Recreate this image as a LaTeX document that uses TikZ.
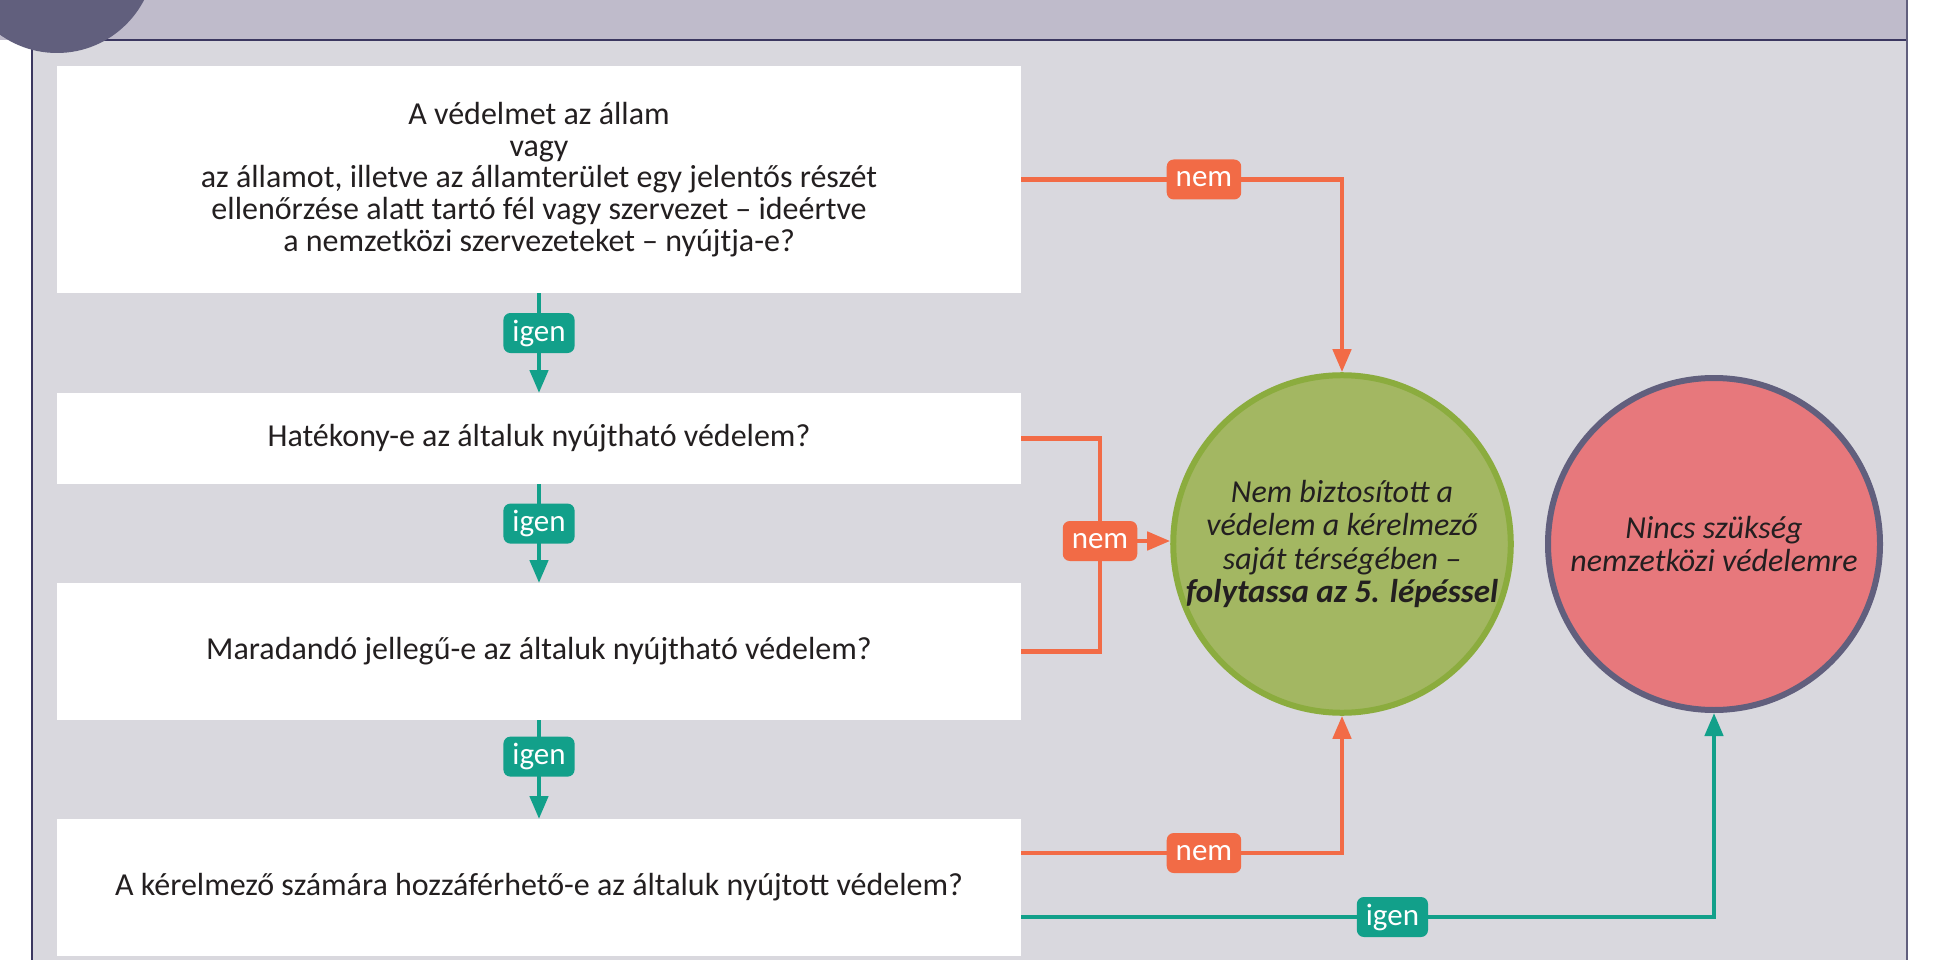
\documentclass[tikz,border=0pt]{standalone}
\usepackage{fontspec}
\setmainfont{Carlito}
\usetikzlibrary{arrows.meta}
\definecolor{panel}{RGB}{217,216,222}
\definecolor{header}{RGB}{191,187,203}
\definecolor{navy}{RGB}{97,95,125}
\definecolor{rule}{RGB}{59,55,96}
\definecolor{nemcol}{RGB}{242,107,70}
\definecolor{igencol}{RGB}{18,160,138}
\definecolor{greenfill}{RGB}{163,183,98}
\definecolor{greenedge}{RGB}{139,172,62}
\definecolor{redfill}{RGB}{231,120,124}
\definecolor{txt}{RGB}{35,31,32}
\newcommand{\tightlines}{\lineskiplimit=-100pt\relax}

\begin{document}
\begin{tikzpicture}[x=1pt, y=-1pt,
    qbox/.style={fill=white, minimum width=964pt, inner sep=0pt, outer sep=0pt,
      align=center, text=txt,
      font=\fontsize{32}{31.6}\selectfont\tightlines},
    tag/.style={rounded corners=7pt, text=white, minimum height=40pt,
      inner xsep=9pt, inner ysep=0pt, font=\fontsize{31}{31}\selectfont},
    igenlabel/.style={tag, fill=igencol},
    nemlabel/.style={tag, fill=nemcol},
    igenline/.style={draw=igencol, line width=4.5pt, -{Triangle[width=18pt,length=23pt]}},
    nemline/.style={draw=nemcol, line width=4.5pt, -{Triangle[width=18pt,length=23pt]}},
    endcircle/.style={circle, minimum size=332pt, line width=6pt, inner sep=0pt,
      align=center, text=txt,
      font=\fontsize{32}{33.5}\selectfont\itshape\tightlines}]
  \useasboundingbox (0,0) rectangle (1941,960);
  % frame
  \fill[header] (0,0) rectangle (1907,40);
  \fill[panel] (32,40) rectangle (1907,960);
  \draw[rule, line width=1.5pt] (32,960) -- (32,40) -- (1907,40);
  \draw[navy, line width=2pt] (1907,0) -- (1907,960);
  \fill[navy] (57,-45) circle (98);
  % questions
  \node[qbox, minimum height=227pt] (q1) at (539,179.5)
    {A védelmet az állam\\ vagy\\ az államot, illetve az államterület egy jelentős részét\\
     ellenőrzése alatt tartó fél vagy szervezet -- ideértve\\
     a nemzetközi szervezeteket -- nyújtja-e?};
  \node[qbox, minimum height=91pt] (q2) at (539,438.5)
    {Hatékony-e az általuk nyújtható védelem?};
  \node[qbox, minimum height=137pt] (q3) at (539,651.5)
    {Maradandó jellegű-e az általuk nyújtható védelem?};
  \node[qbox, minimum height=137pt] (q4) at (539,887.5)
    {A kérelmező számára hozzáférhető-e az általuk nyújtott védelem?};
  % outcomes
  \node[endcircle, fill=greenfill, draw=greenedge] (green) at (1342,544)
    {Nem biztosított a\\ védelem a kérelmező\\ saját térségében --\\
     \textbf{\fontsize{33}{33.5}\selectfont folytassa az 5. lépéssel}};
  \node[endcircle, fill=redfill, draw=navy] (red) at (1714,544)
    {Nincs szükség\\ nemzetközi védelemre};
  % igen arrows
  \draw[igenline] (q1.south) -- node[igenlabel, pos=0.4] {igen} (q2.north);
  \draw[igenline] (q2.south) -- node[igenlabel, pos=0.4] {igen} (q3.north);
  \draw[igenline] (q3.south) -- node[igenlabel, pos=0.37] {igen} (q4.north);
  % nem connectors
  \draw[nemline] (q1.east) -- node[nemlabel, pos=0.57] {nem} (q1.east -| green.north)
    -- (green.north);
  \coordinate (brk) at (1100,541);
  \draw[draw=nemcol, line width=4.5pt] (q2.east) -| (brk) |- (q3.east);
  \node[nemlabel] (nem2) at (brk) {nem};
  \draw[nemline] (nem2.east) -- (nem2.east -| green.west);
  \coordinate (n3) at (1021,853);
  \draw[nemline] (n3) -- node[nemlabel, pos=0.57] {nem} (n3 -| green.south) -- (green.south);
  \coordinate (i4) at (1021,917);
  \draw[igenline] (i4) -- node[igenlabel, pos=0.536] {igen} (i4 -| red.south) -- (red.south);
\end{tikzpicture}
\end{document}
